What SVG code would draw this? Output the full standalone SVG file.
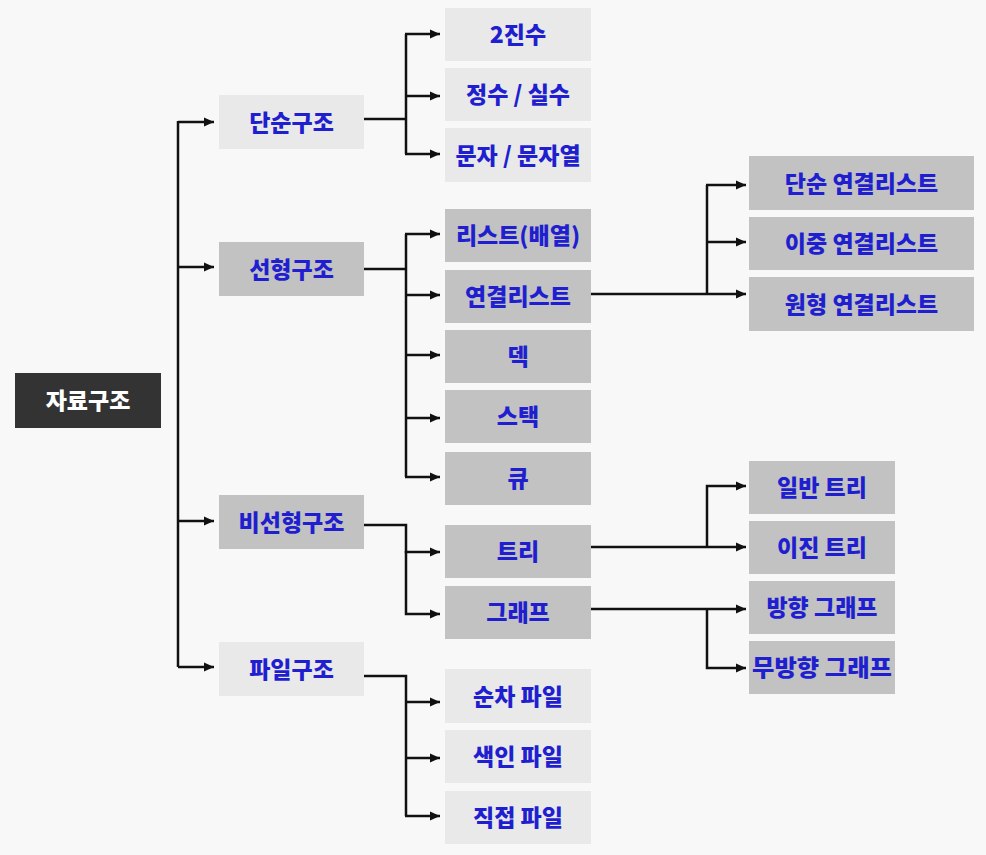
<svg xmlns="http://www.w3.org/2000/svg" width="986" height="855" viewBox="0 0 986 855">
<defs>
<marker id="ah" markerUnits="userSpaceOnUse" markerWidth="11" markerHeight="10" refX="10" refY="5" orient="auto">
<path d="M0,0.5 L10,5 L0,9.5 z" fill="#111"/>
</marker>
<style>
.l{fill:#e9e9e9}
.d{fill:#c2c2c2}
.r{fill:#333333}
.t{font-family:"Noto Sans CJK KR","Noto Sans",sans-serif;font-weight:900;font-size:23px;fill:#1f1fd0;text-anchor:middle;dominant-baseline:central}
.w{fill:#ffffff}
.c path{fill:none;stroke:#111;stroke-width:2.5}
.c .a{marker-end:url(#ah)}
</style>
</defs>
<rect width="986" height="855" fill="#f8f8f8"/>
<g class="c" id="connectors">
<path d="M178,121 V667"/>
<path class="a" d="M178,122 H214"/>
<path class="a" d="M178,267 H214"/>
<path class="a" d="M178,521 H214"/>
<path class="a" d="M178,667 H214"/>
<path d="M364,119 H406 M406,34 V154"/>
<path class="a" d="M405,34 H440"/>
<path class="a" d="M406,96 H440"/>
<path class="a" d="M405,154 H440"/>
<path d="M364,269 H406 M406,234 V477"/>
<path class="a" d="M405,234 H440"/>
<path class="a" d="M406,295 H440"/>
<path class="a" d="M406,355 H440"/>
<path class="a" d="M406,418 H440"/>
<path class="a" d="M405,477 H440"/>
<path d="M591,294 H707 M707,185 V294"/>
<path class="a" d="M706,185 H746"/>
<path class="a" d="M707,242 H746"/>
<path class="a" d="M707,294 H746"/>
<path class="a" d="M364,525 H406 V552 H440"/>
<path class="a" d="M406,551 V614 H440"/>
<path class="a" d="M591,547 H746"/>
<path class="a" d="M707,547 V486 H746"/>
<path class="a" d="M591,609 H746"/>
<path class="a" d="M707,609 V668 H746"/>
<path d="M364,676 H406 V816"/>
<path class="a" d="M406,702 H440"/>
<path class="a" d="M406,758 H440"/>
<path class="a" d="M405,816 H440"/>
</g>
<g id="n-root"><rect class="r" x="15" y="373" width="146" height="55"/><text class="t w" x="88" y="399">자료구조</text></g>
<g id="n-simple"><rect class="l" x="219" y="95" width="145" height="54"/><text class="t" x="291.5" y="120.5">단순구조</text></g>
<g id="n-linear"><rect class="d" x="219" y="242" width="145" height="54"/><text class="t" x="291.5" y="267.5">선형구조</text></g>
<g id="n-nonlinear"><rect class="d" x="219" y="495" width="145" height="54"/><text class="t" x="291.5" y="520.5">비선형구조</text></g>
<g id="n-file"><rect class="l" x="219" y="642" width="145" height="54"/><text class="t" x="291.5" y="667.5">파일구조</text></g>
<g id="n-bin"><rect class="l" x="445" y="8" width="146" height="53"/><text class="t" x="518" y="33">2진수</text></g>
<g id="n-int"><rect class="l" x="445" y="68" width="146" height="53"/><text class="t" x="518" y="93">정수 / 실수</text></g>
<g id="n-char"><rect class="l" x="445" y="128" width="146" height="54"/><text class="t" x="518" y="153.5">문자 / 문자열</text></g>
<g id="n-list"><rect class="d" x="445" y="209" width="146" height="53"/><text class="t" x="518" y="234">리스트(배열)</text></g>
<g id="n-linked"><rect class="d" x="445" y="270" width="146" height="53"/><text class="t" x="518" y="295">연결리스트</text></g>
<g id="n-deque"><rect class="d" x="445" y="330" width="146" height="53"/><text class="t" x="518" y="355">덱</text></g>
<g id="n-stack"><rect class="d" x="445" y="390" width="146" height="53"/><text class="t" x="518" y="415">스택</text></g>
<g id="n-queue"><rect class="d" x="445" y="452" width="146" height="53"/><text class="t" x="518" y="477">큐</text></g>
<g id="n-tree"><rect class="d" x="445" y="525" width="146" height="53"/><text class="t" x="518" y="550">트리</text></g>
<g id="n-graph"><rect class="d" x="445" y="586" width="146" height="53"/><text class="t" x="518" y="611">그래프</text></g>
<g id="n-seq"><rect class="l" x="445" y="669" width="146" height="54"/><text class="t" x="518" y="694.5">순차 파일</text></g>
<g id="n-idx"><rect class="l" x="445" y="730" width="146" height="53"/><text class="t" x="518" y="755">색인 파일</text></g>
<g id="n-direct"><rect class="l" x="445" y="791" width="146" height="53"/><text class="t" x="518" y="816">직접 파일</text></g>
<g id="n-sll"><rect class="d" x="749" y="156" width="225" height="54"/><text class="t" x="861.5" y="181.5">단순 연결리스트</text></g>
<g id="n-dll"><rect class="d" x="749" y="217" width="225" height="53"/><text class="t" x="861.5" y="242">이중 연결리스트</text></g>
<g id="n-cll"><rect class="d" x="749" y="277" width="225" height="54"/><text class="t" x="861.5" y="302.5">원형 연결리스트</text></g>
<g id="n-gtree"><rect class="d" x="749" y="461" width="146" height="53"/><text class="t" x="822" y="486">일반 트리</text></g>
<g id="n-btree"><rect class="d" x="749" y="521" width="146" height="53"/><text class="t" x="822" y="546">이진 트리</text></g>
<g id="n-dgraph"><rect class="d" x="749" y="581" width="146" height="53"/><text class="t" x="822" y="606">방향 그래프</text></g>
<g id="n-ugraph"><rect class="d" x="749" y="641" width="146" height="53"/><text class="t" x="822" y="666" textLength="140" lengthAdjust="spacingAndGlyphs">무방향 그래프</text></g>
</svg>
